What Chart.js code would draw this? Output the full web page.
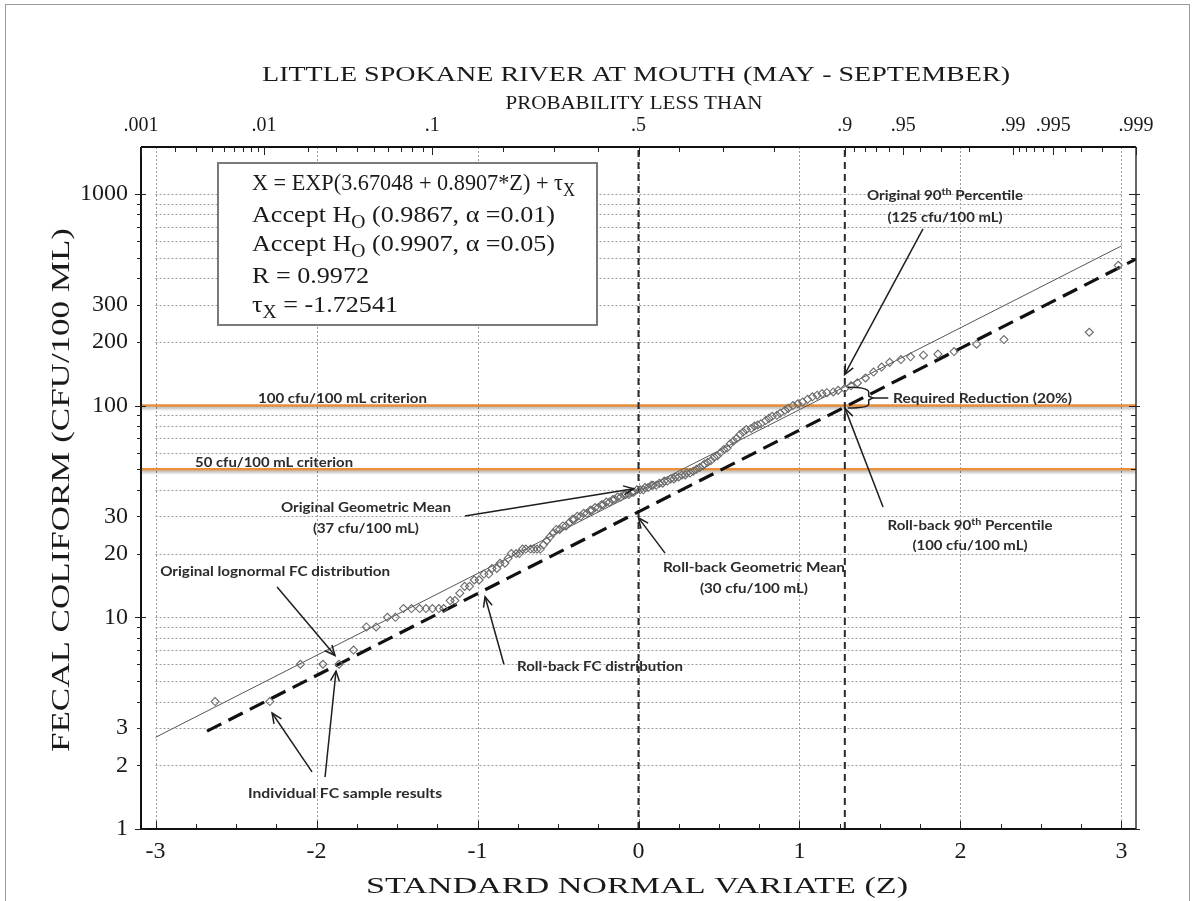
<!DOCTYPE html>
<html><head><meta charset="utf-8">
<script src="https://cdn.jsdelivr.net/npm/chart.js@4.4.1/dist/chart.umd.min.js"></script>
<style>html,body{margin:0;padding:0;background:#fff}canvas{display:block}</style>
</head><body>
<canvas id="c" width="1194" height="901"></canvas>
<script>
// ---------------- DATA ----------------
const chartTitle = 'LITTLE SPOKANE RIVER AT MOUTH (MAY - SEPTEMBER)';
const topAxisTitle = 'PROBABILITY LESS THAN';
const xAxisTitle = 'STANDARD NORMAL VARIATE (Z)';
const yAxisTitle = 'FECAL COLIFORM (CFU/100 ML)';

// Individual FC sample results (standard normal variate, cfu/100 mL)
const sampleZ = [
 -2.63,-2.29,-2.10,-1.96,-1.86,-1.77,-1.69,-1.63,-1.56,-1.51,
 -1.46,-1.41,-1.36,-1.32,-1.28,-1.24,-1.21,-1.17,-1.14,-1.11,
 -1.08,-1.05,-1.02,-0.99,-0.96,-0.93,-0.91,-0.88,-0.86,-0.83,
 -0.81,-0.79,-0.76,-0.74,-0.72,-0.70,-0.67,-0.65,-0.63,-0.61,
 -0.59,-0.57,-0.55,-0.53,-0.51,-0.49,-0.47,-0.45,-0.43,-0.41,
 -0.40,-0.38,-0.36,-0.34,-0.32,-0.30,-0.29,-0.27,-0.25,-0.23,
 -0.22,-0.20,-0.18,-0.16,-0.15,-0.13,-0.11,-0.09,-0.08,-0.06,
 -0.04,-0.03,-0.01, 0.01, 0.03, 0.04, 0.06, 0.08, 0.09, 0.11,
  0.13, 0.15, 0.16, 0.18, 0.20, 0.22, 0.23, 0.25, 0.27, 0.29,
  0.30, 0.32, 0.34, 0.36, 0.38, 0.40, 0.41, 0.43, 0.45, 0.47,
  0.49, 0.51, 0.53, 0.55, 0.57, 0.59, 0.61, 0.63, 0.65, 0.67,
  0.70, 0.72, 0.74, 0.76, 0.79, 0.81, 0.83, 0.86, 0.88, 0.91,
  0.93, 0.96, 0.99, 1.02, 1.05, 1.08, 1.11, 1.14, 1.17, 1.21,
  1.24, 1.28, 1.32, 1.36, 1.41, 1.46, 1.51, 1.56, 1.63, 1.69,
  1.77, 1.86, 1.96, 2.10, 2.27, 2.80, 2.98
];
const sampleFC = [
  4, 4, 6, 6, 6, 7, 9, 9,10,10,
 11,11,11,11,11,11,11,12,12,13,
 14,14,15,15,16,16,17,17,18,18,
 19,20,20,20,21,21,21,21,21,21,
 22,23,24,25,26,26,27,27,28,29,
 29,30,30,31,31,32,32,33,33,34,
 34,35,35,36,36,37,37,38,38,38,
 39,39,40,40,40,41,41,42,42,42,
 43,43,44,44,45,45,46,46,47,47,
 48,48,49,50,51,52,53,54,55,57,
 58,60,62,63,66,68,70,73,75,77,
 78,80,81,82,85,87,89,90,92,95,
 97,100,102,104,107,110,112,114,115,116,
 118,120,124,128,135,144,152,160,165,170,
 173,175,180,195,205,222,460
];

// Fitted lognormal lines (end points)
const originalLineZ  = [-3.0, 3.0];
const originalLineFC = [2.71, 568];
const rollbackLineZ  = [-2.68, 3.09];
const rollbackLineFC = [2.9, 492];

// Criteria and percentile markers
const criteriaFC = [100, 50];
const criteriaLabels = ['100 cfu/100 mL criterion', '50 cfu/100 mL criterion'];
const percentileZ = [0, 1.2816];

// Axes
const xTickValues = [-3, -2, -1, 0, 1, 2, 3];
const yTickValues = [1, 2, 3, 10, 20, 30, 100, 200, 300, 1000];
const yGridValues = [2,3,4,5,6,7,8,9,10,20,30,40,50,60,70,80,90,100,200,300,400,500,600,700,800,900,1000];
const probMajor = [0.001, 0.01, 0.1, 0.5, 0.9, 0.95, 0.99, 0.995, 0.999];
const probMajorLabels = ['.001', '.01', '.1', '.5', '.9', '.95', '.99', '.995', '.999'];
const probMinor = [0.002,0.003,0.004,0.005,0.006,0.007,0.008,0.009,0.02,0.03,0.04,0.05,0.06,0.07,0.08,0.09,
  0.2,0.3,0.4,0.6,0.7,0.8,0.91,0.92,0.93,0.94,0.96,0.97,0.98,0.991,0.992,0.993,0.994,0.996,0.997,0.998];

// Statistics box
const statLines = [
  [['X = EXP(3.67048 + 0.8907*Z) + τ'], ['X', 'sub']],
  [['Accept H'], ['O', 'sub'], [' (0.9867, α =0.01)']],
  [['Accept H'], ['O', 'sub'], [' (0.9907, α =0.05)']],
  [['R = 0.9972']],
  [['τ'], ['X', 'sub'], [' = -1.72541']]
];

// ---------------- helpers ----------------
function probit(p){
  const a=[-3.969683028665376e+01,2.209460984245205e+02,-2.759285104469687e+02,1.383577518672690e+02,-3.066479806614716e+01,2.506628277459239e+00];
  const b=[-5.447609879822406e+01,1.615858368580409e+02,-1.556989798598866e+02,6.680131188771972e+01,-1.328068155288572e+01];
  const c=[-7.784894002430293e-03,-3.223964580411365e-01,-2.400758277161838e+00,-2.549732539343734e+00,4.374664141464968e+00,2.938163982698783e+00];
  const d=[7.784695709041462e-03,3.224671290700398e-01,2.445134137142996e+00,3.754408661907416e+00];
  const pl=0.02425, ph=1-pl; let q,r;
  if(p<pl){q=Math.sqrt(-2*Math.log(p));return (((((c[0]*q+c[1])*q+c[2])*q+c[3])*q+c[4])*q+c[5])/((((d[0]*q+d[1])*q+d[2])*q+d[3])*q+1);}
  if(p<=ph){q=p-0.5;r=q*q;return (((((a[0]*r+a[1])*r+a[2])*r+a[3])*r+a[4])*r+a[5])*q/(((((b[0]*r+b[1])*r+b[2])*r+b[3])*r+b[4])*r+1);}
  q=Math.sqrt(-2*Math.log(1-p));return -(((((c[0]*q+c[1])*q+c[2])*q+c[3])*q+c[4])*q+c[5])/((((d[0]*q+d[1])*q+d[2])*q+d[3])*q+1);
}
const Z_MIN = probit(0.001), Z_MAX = probit(0.999);
const SERIF = '"Liberation Serif", "Times New Roman", serif';
const SANS = 'Lato, "Open Sans", sans-serif';

function pts(xs, ys){ return xs.map((x,i)=>({x:x, y:ys[i]})); }

function txt(ctx, s, x, y, o){
  ctx.save();
  ctx.font = (o.weight||'normal') + ' ' + o.size + 'px ' + o.family;
  const w = ctx.measureText(s).width;
  const sx = o.w ? o.w / w : 1;
  ctx.translate(x, y);
  if (o.rot) ctx.rotate(o.rot);
  ctx.scale(sx, 1);
  ctx.textAlign = o.align || 'center';
  ctx.textBaseline = o.baseline || 'middle';
  ctx.fillStyle = o.color || '#222';
  ctx.fillText(s, 0, 0);
  ctx.restore();
}
// rich text: parts [[text, kind]] kind: undefined | 'sub' | 'sup'
function rich(ctx, parts, x, y, o){
  const base = (o.weight||'normal') + ' ';
  const fontFor = k => base + (k ? Math.round(o.size*(o.subScale||0.72)) : o.size) + 'px ' + o.family;
  let total = 0; const ws = [];
  parts.forEach(p => { ctx.font = fontFor(p[1]); const w = ctx.measureText(p[0]).width; ws.push(w); total += w; });
  const sx = o.w ? o.w/total : (o.sx||1);
  let start = x;
  if ((o.align||'center') === 'center') start = x - total*sx/2;
  ctx.save();
  ctx.fillStyle = o.color || '#222';
  ctx.textAlign = 'left'; ctx.textBaseline = 'alphabetic';
  let cx = 0;
  parts.forEach((p,i) => {
    ctx.font = fontFor(p[1]);
    const dy = p[1]==='sub' ? o.size*0.24 : (p[1]==='sup' ? -o.size*0.35 : 0);
    ctx.save(); ctx.translate(start + cx*sx, y + dy); ctx.scale(sx,1); ctx.fillText(p[0], 0, 0); ctx.restore();
    cx += ws[i];
  });
  ctx.restore();
  return sx;
}
function arrow(ctx, x1, y1, x2, y2){
  ctx.save();
  ctx.strokeStyle = '#1e1e1e'; ctx.lineWidth = 1.5; ctx.setLineDash([]);
  ctx.beginPath(); ctx.moveTo(x1,y1); ctx.lineTo(x2,y2); ctx.stroke();
  const a = Math.atan2(y2-y1, x2-x1), L = 11, s = 0.42;
  ctx.beginPath();
  ctx.moveTo(x2 - L*Math.cos(a-s), y2 - L*Math.sin(a-s));
  ctx.lineTo(x2, y2);
  ctx.lineTo(x2 - L*Math.cos(a+s), y2 - L*Math.sin(a+s));
  ctx.stroke();
  ctx.restore();
}

// annotation definitions in data coordinates (z, cfu)
const notes = [
  {parts:[[criteriaLabels[0]]], z:-1.839, v:108.6, w:169},
  {parts:[[criteriaLabels[1]]], z:-2.264, v:54.2, w:158},
  {parts:[['Original 90'],['th','sup'],[' Percentile']], z:1.904, v:990, w:156},
  {parts:[['(125 cfu/100 mL)']], z:1.904, v:778, w:115},
  {parts:[['Required Reduction (20%)']], z:1.581, v:108.6, w:179, align:'left'},
  {parts:[['Roll-back 90'],['th','sup'],[' Percentile']], z:2.059, v:27.3, w:165},
  {parts:[['(100 cfu/100 mL)']], z:2.059, v:21.9, w:115},
  {parts:[['Original Geometric Mean']], z:-1.693, v:33.2, w:170},
  {parts:[['(37 cfu/100 mL)']], z:-1.693, v:26.4, w:106},
  {parts:[['Roll-back Geometric Mean']], z:0.717, v:17.3, w:182},
  {parts:[['(30 cfu/100 mL)']], z:0.717, v:13.8, w:108},
  {parts:[['Original lognormal FC distribution']], z:-2.257, v:16.5, w:230},
  {parts:[['Roll-back FC distribution']], z:-0.239, v:5.89, w:166},
  {parts:[['Individual FC sample results']], z:-1.823, v:1.48, w:194}
];
const arrows = [
  [1.767, 683, 1.28, 140],
  [1.519, 33.2, 1.283, 97],
  [-1.078, 30.1, -0.03, 40.5],
  [0.165, 20.1, 0.0, 29.5],
  [-2.245, 13.9, -1.885, 6.6],
  [-0.836, 6.0, -0.953, 12.5],
  [-2.028, 1.86, -2.276, 3.53],
  [-1.947, 1.76, -1.879, 5.57]
];
const brace = {zL:1.30, zR:1.43, vT:122, vM:108.6, vB:97.5, zEnd:1.57};

// ---------------- plugins ----------------
const decor = {
  id: 'decor',
  beforeDatasetsDraw(chart){
    const ctx = chart.ctx, a = chart.chartArea, xs = chart.scales.x, ys = chart.scales.y;
    ctx.save();
    ctx.strokeStyle = '#9a9a9a'; ctx.lineWidth = 1; ctx.setLineDash([2,2]);
    xTickValues.forEach(z => { const x = Math.round(xs.getPixelForValue(z))+0.5;
      ctx.beginPath(); ctx.moveTo(x, a.top); ctx.lineTo(x, a.bottom); ctx.stroke(); });
    const xl = xs.getPixelForValue(-3), xr = xs.getPixelForValue(3);
    yGridValues.forEach(v => { const y = Math.round(ys.getPixelForValue(v))+0.5;
      ctx.beginPath(); ctx.moveTo(xl, y); ctx.lineTo(xr, y); ctx.stroke(); });
    ctx.restore();
  },
  beforeDatasetDraw(chart, args){
    const ds = chart.data.datasets[args.index];
    if (ds.shadow){ const ctx = chart.ctx; ctx.save();
      ctx.shadowColor = 'rgba(0,0,0,0.35)'; ctx.shadowOffsetY = 2; ctx.shadowBlur = 3; }
  },
  afterDatasetDraw(chart, args){
    const ds = chart.data.datasets[args.index];
    if (ds.shadow) chart.ctx.restore();
  },
  afterDatasetsDraw(chart){
    const ctx = chart.ctx, a = chart.chartArea, xs = chart.scales.x, ys = chart.scales.y;
    ctx.save(); ctx.setLineDash([]);
    // frame
    ctx.strokeStyle = '#111'; ctx.lineWidth = 2;
    ctx.beginPath(); ctx.moveTo(a.left, a.top); ctx.lineTo(a.left, a.bottom); ctx.lineTo(a.right, a.bottom); ctx.stroke();
    ctx.beginPath(); ctx.moveTo(a.left, a.top); ctx.lineTo(a.right, a.top); ctx.stroke();
    ctx.strokeStyle = '#333'; ctx.lineWidth = 1.5;
    ctx.beginPath(); ctx.moveTo(a.right, a.top); ctx.lineTo(a.right, a.bottom); ctx.stroke();
    // y ticks (left outward, right inward)
    ctx.strokeStyle = '#222'; ctx.lineWidth = 1;
    const ymaj = [1,10,100,1000];
    yGridValues.concat([1]).forEach(v => {
      const y = Math.round(ys.getPixelForValue(v))+0.5, maj = ymaj.includes(v);
      ctx.beginPath(); ctx.moveTo(a.left - (maj?6:4), y); ctx.lineTo(a.left + (maj?5:0), y); ctx.stroke();
      ctx.beginPath(); ctx.moveTo(a.right - (maj?7:5), y); ctx.lineTo(a.right + (maj?4:0), y); ctx.stroke();
    });
    // bottom ticks every 0.25
    for (let k = -12; k <= 12; k++){
      const z = k/4, x = Math.round(xs.getPixelForValue(z))+0.5, L = (k%4===0) ? 8 : 5;
      ctx.beginPath(); ctx.moveTo(x, a.bottom); ctx.lineTo(x, a.bottom - L); ctx.stroke();
    }
    // top probability ticks
    probMajor.forEach(p => { const x = Math.round(xs.getPixelForValue(probit(p)))+0.5;
      ctx.beginPath(); ctx.moveTo(x, a.top); ctx.lineTo(x, a.top + 8); ctx.stroke(); });
    probMinor.forEach(p => { const x = Math.round(xs.getPixelForValue(probit(p)))+0.5;
      ctx.beginPath(); ctx.moveTo(x, a.top); ctx.lineTo(x, a.top + 5); ctx.stroke(); });
    ctx.restore();
  },
  afterDraw(chart){
    const ctx = chart.ctx, a = chart.chartArea, xs = chart.scales.x, ys = chart.scales.y;
    const X = z => xs.getPixelForValue(z), Y = v => ys.getPixelForValue(v);
    // outer frame of the figure
    ctx.save(); ctx.strokeStyle = '#9a9a9a'; ctx.lineWidth = 1;
    ctx.strokeRect(5.5, 4.5, 1184, 905); ctx.restore();
    // titles
    txt(ctx, chartTitle, 636, 75, {size:22, family:SERIF, w:748, color:'#1a1a1a'});
    txt(ctx, topAxisTitle, 634, 104, {size:18, family:SERIF, w:257, color:'#1a1a1a'});
    txt(ctx, xAxisTitle, 637, 887, {size:24, family:SERIF, w:542, color:'#1a1a1a'});
    txt(ctx, yAxisTitle, 62, 490, {size:25, family:SERIF, w:524, rot:-Math.PI/2, color:'#1a1a1a'});
    // statistics box
    ctx.save();
    ctx.fillStyle = '#fff'; ctx.fillRect(217, 162, 380, 163);
    ctx.strokeStyle = '#7a7a7a'; ctx.lineWidth = 2; ctx.strokeRect(218, 163, 379, 162);
    ctx.restore();
    const lineWidths = [323, 303, 303, 117, 146];
    const baselines = [190, 222, 251, 283, 312];
    statLines.forEach((ln, i) => rich(ctx, ln, 252, baselines[i], {size:24, family:SERIF, w:lineWidths[i], align:'left', color:'#1a1a1a', subScale:0.75}));
    // annotation text
    notes.forEach(n => rich(ctx, n.parts, X(n.z), Y(n.v) + 5, {size:14, family:SANS, weight:'bold', w:n.w, align:n.align||'center', color:'#2b2b2b', subScale:0.7}));
    // arrows
    arrows.forEach(r => arrow(ctx, X(r[0]), Y(r[1]), X(r[2]), Y(r[3])));
    // brace for required reduction
    const xL = X(brace.zL), xR = X(brace.zR), yT = Y(brace.vT), yM = Y(brace.vM), yB = Y(brace.vB), xE = X(brace.zEnd);
    ctx.save(); ctx.strokeStyle = '#1e1e1e'; ctx.lineWidth = 1.5;
    ctx.beginPath();
    ctx.moveTo(xL, yT); ctx.quadraticCurveTo(xR, yT, xR, yT + 5);
    ctx.lineTo(xR, yM - 2); ctx.lineTo(xR + 4, yM); ctx.lineTo(xR, yM + 2);
    ctx.lineTo(xR, yB - 4); ctx.quadraticCurveTo(xR, yB, xL, yB);
    ctx.stroke();
    ctx.beginPath(); ctx.moveTo(xR + 4, yM); ctx.lineTo(xE - 3, yM); ctx.stroke();
    ctx.restore();
  }
};

// ---------------- chart ----------------
const ORANGE = '#E8903E';
const ctx = document.getElementById('c').getContext('2d');
new Chart(ctx, {
  type: 'scatter',
  data: { datasets: [
    { label:'samples', data: pts(sampleZ, sampleFC), pointStyle:'rectRot', pointRadius:4,
      borderColor:'#6a6a6a', backgroundColor:'rgba(255,255,255,0)', borderWidth:1.1, order:0 },
    { label:'roll-back', data: pts(rollbackLineZ, rollbackLineFC), showLine:true, pointRadius:0,
      borderColor:'#111', borderWidth:3.2, borderDash:[16,8], order:1 },
    { label:'original', data: pts(originalLineZ, originalLineFC), showLine:true, pointRadius:0,
      borderColor:'#555', borderWidth:1, order:2 },
    { label:'gm', data: pts([percentileZ[0], percentileZ[0]], [1, 1665]), showLine:true, pointRadius:0,
      borderColor:'#2a2a2a', borderWidth:2, borderDash:[7,5], order:3 },
    { label:'p90', data: pts([percentileZ[1], percentileZ[1]], [1, 1665]), showLine:true, pointRadius:0,
      borderColor:'#2a2a2a', borderWidth:2, borderDash:[7,5], order:3 },
    { label:'c100', data: pts([Z_MIN, Z_MAX], [criteriaFC[0], criteriaFC[0]]), showLine:true, pointRadius:0,
      borderColor:ORANGE, borderWidth:2.5, shadow:true, order:4 },
    { label:'c50', data: pts([Z_MIN, Z_MAX], [criteriaFC[1], criteriaFC[1]]), showLine:true, pointRadius:0,
      borderColor:ORANGE, borderWidth:2.5, shadow:true, order:4 }
  ]},
  options: {
    responsive:false, animation:false, devicePixelRatio:1,
    layout: { padding: { left:0, right:58, top:0, bottom:0 } },
    plugins: { legend:{display:false}, tooltip:{enabled:false}, title:{display:false} },
    scales: {
      x: { type:'linear', position:'bottom', min:Z_MIN, max:Z_MAX,
        afterBuildTicks: s => { s.ticks = xTickValues.map(v => ({value:v})); },
        afterFit: s => { s.height = 72; },
        grid:{display:false, drawTicks:false}, border:{display:false},
        ticks:{ autoSkip:false, maxRotation:0, padding:8, color:'#1a1a1a', font:{family:SERIF, size:24},
          callback: v => String(v) } },
      x2: { type:'linear', position:'top', min:Z_MIN, max:Z_MAX,
        afterBuildTicks: s => { s.ticks = probMajor.map(p => ({value:probit(p)})); },
        afterFit: s => { s.height = 147; },
        grid:{display:false, drawTicks:false}, border:{display:false},
        ticks:{ autoSkip:false, maxRotation:0, padding:9, color:'#1a1a1a', font:{family:SERIF, size:20},
          callback: (v, i) => probMajorLabels[i] } },
      y: { type:'logarithmic', position:'left', min:1, max:1665,
        afterBuildTicks: s => { s.ticks = yTickValues.map(v => ({value:v})); },
        afterFit: s => { s.width = 141; },
        grid:{display:false, drawTicks:false}, border:{display:false},
        ticks:{ autoSkip:false, padding:13, color:'#1a1a1a', font:{family:SERIF, size:24},
          callback: v => String(v) } }
    }
  },
  plugins: [decor]
});
</script>
</body></html>
